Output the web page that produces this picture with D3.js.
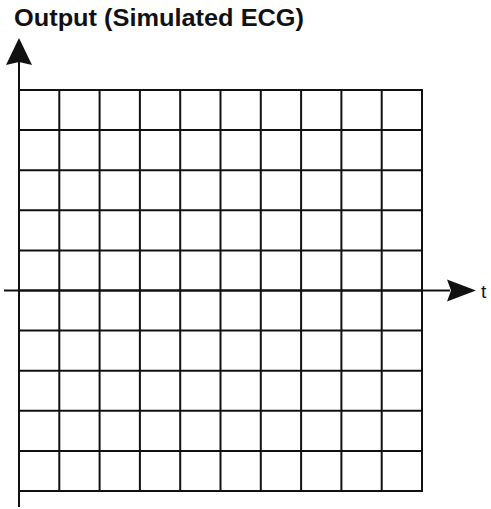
<!DOCTYPE html>
<html>
<head>
<meta charset="utf-8">
<script src="https://cdn.jsdelivr.net/npm/d3@7"></script>
<style>
  html, body { margin: 0; padding: 0; background: #fff; }
  svg { display: block; }
</style>
</head>
<body>
<script>
// Blank ECG paper: a 10 x 10 grid with time and output axes.
const title = "Output (Simulated ECG)";
const timeLabel = "t";
const timeTicks = [0, 1, 2, 3, 4, 5, 6, 7, 8, 9, 10];
const outputTicks = [-5, -4, -3, -2, -1, 0, 1, 2, 3, 4, 5];

const W = 491, H = 509;
const svg = d3.select("body").append("svg")
  .attr("width", W).attr("height", H);

const x = d3.scaleLinear().domain([0, 10]).range([19, 422]);
const y = d3.scaleLinear().domain([-5, 5]).range([491, 90]);

const ink = "#111";

// grid
const grid = svg.append("g").attr("stroke", ink).attr("stroke-width", 2);
grid.selectAll("line.v").data(timeTicks).join("line")
  .attr("class", "v")
  .attr("x1", d => x(d)).attr("x2", d => x(d))
  .attr("y1", y(5) - 1).attr("y2", y(-5) + 1);
grid.selectAll("line.h").data(outputTicks).join("line")
  .attr("class", "h")
  .attr("y1", d => y(d)).attr("y2", d => y(d))
  .attr("x1", x(0) - 1).attr("x2", x(10) + 1);

// axes
const axes = svg.append("g").attr("stroke", ink).attr("stroke-width", 2);
axes.append("line")
  .attr("x1", x(0)).attr("x2", x(0))
  .attr("y1", 62).attr("y2", 507);
axes.append("line")
  .attr("x1", 4).attr("x2", 450)
  .attr("y1", y(0)).attr("y2", y(0));

// arrowheads
const ax = x(0), ay = y(0);
svg.append("path")
  .attr("d", `M${ax},38 L${ax + 13},65 L${ax},62 L${ax - 13},65 Z`)
  .attr("fill", ink);
svg.append("path")
  .attr("d", `M476,${ay} L447,${ay - 11} L451,${ay} L447,${ay + 11} Z`)
  .attr("fill", ink);

// labels
svg.append("text")
  .attr("x", 14).attr("y", 26)
  .attr("font-family", "Liberation Sans, Arial, sans-serif")
  .attr("font-weight", "bold")
  .attr("font-size", 23)
  .attr("textLength", 290)
  .attr("lengthAdjust", "spacingAndGlyphs")
  .attr("fill", ink)
  .text(title);

svg.append("text")
  .attr("x", 481).attr("y", 298)
  .attr("font-family", "Liberation Sans, Arial, sans-serif")
  .attr("font-size", 19)
  .attr("fill", ink)
  .text(timeLabel);
</script>
</body>
</html>
